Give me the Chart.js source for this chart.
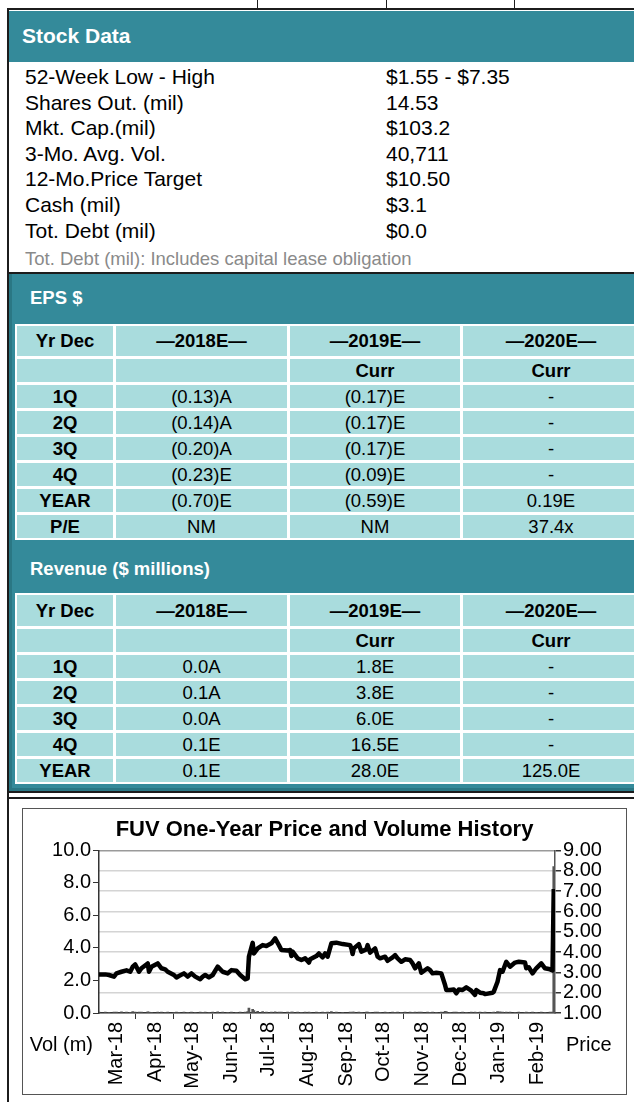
<!DOCTYPE html>
<html>
<head>
<meta charset="utf-8">
<title>FUV Stock Data</title>
<script src="https://cdn.jsdelivr.net/npm/chart.js@4.4.1/dist/chart.umd.min.js"></script>
<style>
  body { margin: 0; width: 634px; height: 1102px; overflow: hidden; position: relative; background: #fff;
         font-family: "Liberation Sans", Arial, sans-serif; color: #000; }
  .rule { position: absolute; background: #1c1c1c; }
  .band { position: absolute; background: #348a9a; box-sizing: border-box; }
  .hdr { position: absolute; color: #fff; font-weight: bold; white-space: nowrap; }
  .stock { position: absolute; left: 25px; top: 64px; font-size: 21px; line-height: 25.6px; }
  .stock div { position: relative; height: 25.6px; white-space: nowrap; }
  .stock span { position: absolute; left: 361px; top: 0; }
  .note { position: absolute; left: 25px; top: 248px; font-size: 18.5px; line-height: 21px; color: #8a8a8a; white-space: nowrap; }
  .tbl { position: absolute; left: 15px; display: grid; grid-template-columns: 96px 171px 170px 176px;
         gap: 3px; padding: 2px; background: #fff; font-size: 18.5px; }
  .tbl div { background: #a9dcdd; display: flex; align-items: center; justify-content: center; white-space: nowrap; }
  .tbl .b { font-weight: bold; }
  #box { position: absolute; left: 22px; top: 808px; width: 605px; height: 287px; border: 1px solid #555; box-sizing: border-box; }
  #chartWrap { position: absolute; left: 23px; top: 809px; width: 603px; height: 285px; }
</style>
</head>
<body>
<div class="rule" style="left:7px;top:8px;width:627px;height:2px"></div>
<div class="rule" style="left:7px;top:8px;width:2px;height:1094px"></div>
<div class="rule" style="left:257px;top:0;width:1px;height:9px"></div>
<div class="rule" style="left:386px;top:0;width:1px;height:9px"></div>
<div class="rule" style="left:514px;top:0;width:1px;height:9px"></div>

<div class="band" style="left:9px;top:11px;width:625px;height:51px"></div>
<div class="hdr" style="left:22px;top:24px;font-size:21px;line-height:23px">Stock Data</div>

<div class="stock">
  <div>52-Week Low - High<span>$1.55 - $7.35</span></div>
  <div>Shares Out. (mil)<span>14.53</span></div>
  <div>Mkt. Cap.(mil)<span>$103.2</span></div>
  <div>3-Mo. Avg. Vol.<span>40,711</span></div>
  <div>12-Mo.Price Target<span>$10.50</span></div>
  <div>Cash (mil)<span>$3.1</span></div>
  <div>Tot. Debt (mil)<span>$0.0</span></div>
</div>
<div class="note">Tot. Debt (mil): Includes capital lease obligation</div>

<div class="rule" style="left:7px;top:272px;width:627px;height:2px"></div>
<div class="band" style="left:9px;top:274px;width:625px;height:517px;border-left:3px solid #2a7784;border-bottom:3px solid #2a7784"></div>

<div class="hdr" style="left:30px;top:288px;font-size:18.5px;line-height:20px">EPS $</div>
<div class="tbl" style="top:324px;grid-template-rows:30px repeat(7,23px)">
  <div class="b">Yr Dec</div><div class="b">—2018E—</div><div class="b">—2019E—</div><div class="b">—2020E—</div>
  <div></div><div></div><div class="b">Curr</div><div class="b">Curr</div>
  <div class="b">1Q</div><div>(0.13)A</div><div>(0.17)E</div><div>-</div>
  <div class="b">2Q</div><div>(0.14)A</div><div>(0.17)E</div><div>-</div>
  <div class="b">3Q</div><div>(0.20)A</div><div>(0.17)E</div><div>-</div>
  <div class="b">4Q</div><div>(0.23)E</div><div>(0.09)E</div><div>-</div>
  <div class="b">YEAR</div><div>(0.70)E</div><div>(0.59)E</div><div>0.19E</div>
  <div class="b">P/E</div><div>NM</div><div>NM</div><div>37.4x</div>
</div>

<div class="hdr" style="left:30px;top:559px;font-size:18.5px;line-height:20px">Revenue ($ millions)</div>
<div class="tbl" style="top:593px;grid-template-rows:31px repeat(6,23px)">
  <div class="b">Yr Dec</div><div class="b">—2018E—</div><div class="b">—2019E—</div><div class="b">—2020E—</div>
  <div></div><div></div><div class="b">Curr</div><div class="b">Curr</div>
  <div class="b">1Q</div><div>0.0A</div><div>1.8E</div><div>-</div>
  <div class="b">2Q</div><div>0.1A</div><div>3.8E</div><div>-</div>
  <div class="b">3Q</div><div>0.0A</div><div>6.0E</div><div>-</div>
  <div class="b">4Q</div><div>0.1E</div><div>16.5E</div><div>-</div>
  <div class="b">YEAR</div><div>0.1E</div><div>28.0E</div><div>125.0E</div>
</div>

<div class="rule" style="left:7px;top:791px;width:627px;height:2px"></div>
<div class="rule" style="left:7px;top:797px;width:627px;height:2px"></div>

<div id="box"></div>
<div id="chartWrap"><canvas id="priceChart" width="603" height="285"></canvas></div>

<script>
// price history (close, $) and volume (millions)
const priceDates = [
  "2018-02-15", "2018-02-20", "2018-02-23", "2018-02-27", "2018-03-01", "2018-03-05", "2018-03-09", "2018-03-12",
  "2018-03-14", "2018-03-16", "2018-03-19", "2018-03-21", "2018-03-26", "2018-03-27", "2018-03-29", "2018-04-03",
  "2018-04-06", "2018-04-09", "2018-04-11", "2018-04-16", "2018-04-18", "2018-04-20", "2018-04-24", "2018-04-27",
  "2018-04-30", "2018-05-03", "2018-05-07", "2018-05-09", "2018-05-11", "2018-05-14", "2018-05-17", "2018-05-21",
  "2018-05-25", "2018-05-29", "2018-06-01", "2018-06-05", "2018-06-08", "2018-06-12", "2018-06-14", "2018-06-15",
  "2018-06-18", "2018-06-19", "2018-06-22", "2018-06-26", "2018-06-29", "2018-07-03", "2018-07-06", "2018-07-09",
  "2018-07-11", "2018-07-16", "2018-07-18", "2018-07-19", "2018-07-20", "2018-07-24", "2018-07-27", "2018-07-30",
  "2018-08-02", "2018-08-03", "2018-08-08", "2018-08-10", "2018-08-13", "2018-08-15", "2018-08-17", "2018-08-20",
  "2018-08-24", "2018-08-29", "2018-09-04", "2018-09-05", "2018-09-06", "2018-09-07", "2018-09-11", "2018-09-13",
  "2018-09-17", "2018-09-18", "2018-09-20", "2018-09-24", "2018-09-26", "2018-09-28", "2018-10-02", "2018-10-04",
  "2018-10-08", "2018-10-10", "2018-10-12", "2018-10-15", "2018-10-18", "2018-10-22", "2018-10-24", "2018-10-26",
  "2018-10-29", "2018-10-31", "2018-11-05", "2018-11-07", "2018-11-09", "2018-11-12", "2018-11-16", "2018-11-19",
  "2018-11-20", "2018-11-23", "2018-11-26", "2018-11-28", "2018-11-30", "2018-12-03", "2018-12-06", "2018-12-10",
  "2018-12-13", "2018-12-14", "2018-12-17", "2018-12-20", "2018-12-21", "2018-12-27", "2018-12-28", "2018-12-31",
  "2019-01-02", "2019-01-04", "2019-01-07", "2019-01-10", "2019-01-14", "2019-01-17", "2019-01-22", "2019-01-23",
  "2019-01-25", "2019-01-28", "2019-01-31", "2019-02-04", "2019-02-07", "2019-02-11", "2019-02-13", "2019-02-14"
];
const prices = [
  2.90, 2.90, 2.87, 2.79, 2.95, 3.03, 3.10, 3.03,
  3.28, 3.39, 3.03, 3.20, 3.44, 3.03, 3.28, 3.44,
  3.20, 3.15, 3.03, 2.87, 2.75, 2.82, 2.95, 2.79,
  2.95, 2.79, 2.66, 2.79, 2.87, 2.75, 2.87, 3.28,
  3.03, 2.95, 3.11, 3.08, 2.87, 2.66, 2.70, 3.77,
  4.45, 3.93, 4.18, 4.34, 4.30, 4.43, 4.67, 4.34,
  4.10, 4.07, 4.10, 3.80, 4.02, 3.69, 3.61, 3.69,
  3.48, 3.64, 3.80, 3.93, 3.74, 3.93, 3.77, 4.43,
  4.46, 4.39, 4.34, 4.18, 3.90, 4.18, 4.39, 4.02,
  4.13, 4.34, 3.97, 4.18, 3.77, 3.69, 3.77, 3.57,
  3.74, 3.85, 3.69, 3.52, 3.64, 3.61, 3.44, 3.20,
  3.44, 2.98, 3.20, 3.11, 2.95, 2.98, 2.95, 2.38,
  2.13, 2.13, 2.16, 1.97, 2.16, 2.13, 2.26, 2.10,
  1.89, 2.13, 2.00, 1.97, 1.93, 2.00, 2.05, 2.54,
  3.11, 3.03, 3.52, 3.28, 3.48, 3.52, 3.48, 3.20,
  3.25, 2.95, 3.20, 3.44, 3.20, 3.15, 3.10, 7.10
];
const volumes = [
  0.06, 0.05, 0.04, 0.06, 0.05, 0.07, 0.05, 0.04,
  0.08, 0.06, 0.05, 0.06, 0.07, 0.05, 0.04, 0.06,
  0.05, 0.04, 0.05, 0.04, 0.05, 0.04, 0.05, 0.04,
  0.05, 0.04, 0.05, 0.04, 0.05, 0.04, 0.05, 0.07,
  0.05, 0.04, 0.05, 0.04, 0.05, 0.06, 0.08, 0.30,
  0.22, 0.15, 0.10, 0.08, 0.06, 0.05, 0.07, 0.06,
  0.05, 0.05, 0.04, 0.06, 0.05, 0.05, 0.04, 0.05,
  0.05, 0.04, 0.05, 0.04, 0.05, 0.04, 0.05, 0.08,
  0.05, 0.04, 0.05, 0.04, 0.06, 0.05, 0.05, 0.04,
  0.05, 0.05, 0.04, 0.05, 0.05, 0.04, 0.05, 0.04,
  0.05, 0.04, 0.05, 0.04, 0.05, 0.05, 0.04, 0.05,
  0.05, 0.06, 0.05, 0.04, 0.05, 0.04, 0.05, 0.10,
  0.08, 0.04, 0.05, 0.05, 0.04, 0.05, 0.04, 0.05,
  0.05, 0.04, 0.05, 0.04, 0.05, 0.04, 0.05, 0.08,
  0.07, 0.05, 0.06, 0.05, 0.04, 0.05, 0.04, 0.05,
  0.04, 0.05, 0.04, 0.05, 0.04, 0.05, 0.06, 9.00
];
const tickDates = [
  "2018-03-01", "2018-04-01", "2018-05-01", "2018-06-01", "2018-07-01", "2018-08-01",
  "2018-09-01", "2018-10-01", "2018-11-01", "2018-12-01", "2019-01-01", "2019-02-01"
];
const tickLabels = ["Mar-18", "Apr-18", "May-18", "Jun-18", "Jul-18", "Aug-18",
                    "Sep-18", "Oct-18", "Nov-18", "Dec-18", "Jan-19", "Feb-19"];

const day0 = Date.UTC(2018, 1, 15);
function dayIndex(s) {
  const p = s.split("-");
  return (Date.UTC(+p[0], +p[1] - 1, +p[2]) - day0) / 86400000;
}

const FONT = '"Liberation Sans", Arial, sans-serif';
Chart.defaults.font.family = FONT;
Chart.defaults.color = "#000";

// "Vol (m)" and "Price" sit level with the month labels
const sideLabels = {
  id: "sideLabels",
  afterDraw(chart) {
    const { ctx, chartArea } = chart;
    ctx.save();
    ctx.font = "20px " + FONT;
    ctx.fillStyle = "#000";
    ctx.textBaseline = "middle";
    ctx.textAlign = "right";
    ctx.fillText("Vol (m)", chartArea.left - 6, chartArea.bottom + 32);
    ctx.textAlign = "left";
    ctx.fillText("Price", chartArea.right + 11, chartArea.bottom + 32);
    ctx.restore();
  }
};

const ctx = document.getElementById("priceChart").getContext("2d");
new Chart(ctx, {
  type: "bar",
  data: {
    datasets: [
      {
        type: "line",
        label: "Price",
        data: priceDates.map((d, i) => ({ x: dayIndex(d), y: prices[i] })),
        yAxisID: "yP",
        borderColor: "#000",
        borderWidth: 4.5,
        pointRadius: 0,
        tension: 0,
        borderJoinStyle: "round",
        order: 1
      },
      {
        type: "bar",
        label: "Volume",
        data: priceDates.map((d, i) => ({ x: dayIndex(d), y: volumes[i] })),
        yAxisID: "yV",
        backgroundColor: "#555",
        barThickness: 2,
        order: 2
      }
    ]
  },
  options: {
    responsive: false,
    animation: false,
    layout: { padding: 0 },
    plugins: {
      legend: { display: false },
      tooltip: { enabled: false },
      title: {
        display: true,
        text: "FUV One-Year Price and Volume History",
        font: { size: 22, weight: "bold" },
        color: "#000",
        padding: { top: 8, bottom: 7 }
      }
    },
    scales: {
      x: {
        type: "linear",
        min: 0,
        max: 365,
        offset: false,
        afterBuildTicks(scale) {
          scale.ticks = tickDates.map(d => ({ value: dayIndex(d) }));
        },
        afterFit(scale) { scale.height = 81; },
        ticks: {
          autoSkip: false,
          minRotation: 90,
          maxRotation: 90,
          padding: 3,
          font: { size: 20 },
          callback: (v, i) => tickLabels[i]
        },
        grid: { drawOnChartArea: false, tickLength: 6, tickColor: "#333" },
        border: { color: "#333", width: 1.5 }
      },
      yV: {
        position: "left",
        min: 0,
        max: 10,
        afterFit(scale) { scale.width = 76; },
        ticks: { stepSize: 2, autoSkip: false, padding: 2, font: { size: 20 }, callback: v => v.toFixed(1) },
        grid: { drawOnChartArea: false, tickLength: 6, tickColor: "#333" },
        border: { color: "#333", width: 1.5 }
      },
      yP: {
        position: "right",
        min: 1,
        max: 9,
        afterFit(scale) { scale.width = 71; },
        ticks: { stepSize: 1, autoSkip: false, padding: 2, font: { size: 20 }, callback: v => v.toFixed(2) },
        grid: {
          color: c => (c.tick && c.tick.value === 9 ? "#9a9a9a" : "#d4d4d4"),
          lineWidth: 1.5,
          tickLength: 6,
          tickColor: "#333"
        },
        border: { color: "#555", width: 1.5 }
      }
    }
  },
  plugins: [sideLabels]
});
</script>
</body>
</html>
